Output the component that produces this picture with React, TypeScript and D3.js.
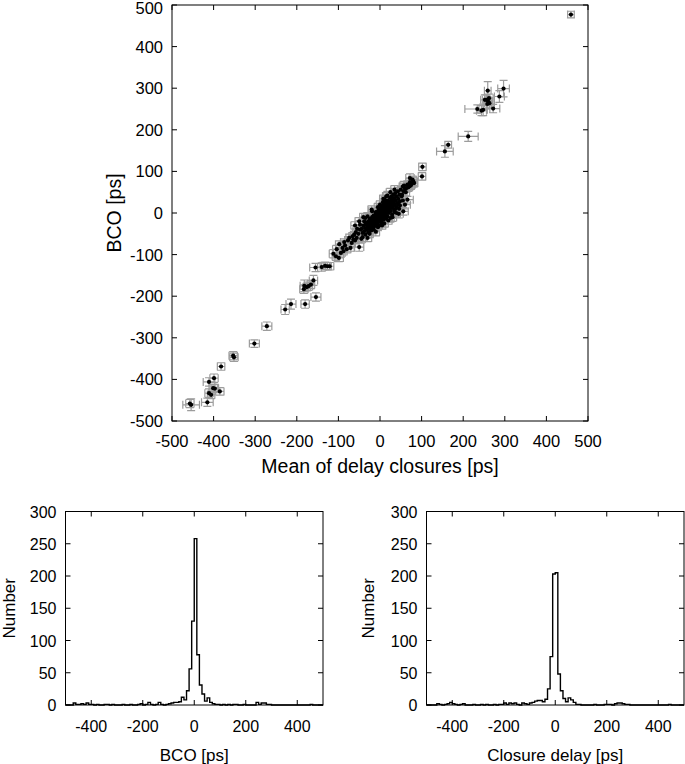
import React from 'react'
import * as d3 from 'd3'

// scatter points: [mean of delay closures, BCO, x error, y error], all in ps
const centralPoints: number[][] = [
  [-104, -87, 10, 9], [-98, -75, 9, 8], [-94, -96, 10, 10], [-99, -108, 11, 9], [-106, -104, 9, 10],
  [-90, -84, 8, 9], [-86, -70, 9, 8], [-80, -87, 10, 9], [-74, -60, 8, 9], [-71, -84, 9, 8],
  [-64, -64, 10, 9], [-50, -82, 11, 10], [-68, -72, 9, 9], [-60, -66, 8, 8], [-84, -78, 9, 10],
  [-77, -66, 8, 9], [-62, -52, 9, 8], [-56, -60, 10, 9], [-48, -40, 9, 9], [-58, -46, 8, 8],
  [-66, -56, 9, 9], [-52, -50, 8, 9], [-112, -98, 10, 10], [-88, -92, 9, 9],
  [-44, -38, 8, 8], [-42, -48, 9, 9], [-40, -30, 8, 9], [-38, -44, 9, 8], [-36, -36, 8, 8],
  [-35, -52, 9, 9], [-33, -28, 8, 8], [-32, -40, 8, 9], [-30, -22, 9, 8], [-30, -34, 8, 8],
  [-28, -46, 9, 9], [-27, -30, 8, 8], [-26, -18, 8, 9], [-25, -38, 9, 8], [-24, -26, 8, 8],
  [-23, -34, 8, 8], [-22, -14, 9, 9], [-21, -42, 8, 8], [-20, -24, 8, 9], [-20, -30, 8, 8],
  [-19, -10, 9, 8], [-18, -36, 8, 8], [-17, -20, 8, 8], [-16, -28, 9, 9], [-15, -6, 8, 8],
  [-15, -16, 8, 8], [-14, -32, 8, 9], [-13, -22, 9, 8], [-12, -12, 8, 8], [-12, -26, 8, 8],
  [-11, -4, 8, 9], [-10, -18, 9, 8], [-10, -30, 8, 8], [-9, -8, 8, 8], [-8, -14, 8, 9],
  [-8, -22, 9, 8], [-7, 2, 8, 8], [-6, -10, 8, 8], [-6, -26, 8, 8], [-5, -4, 9, 9],
  [-4, -16, 8, 8], [-4, 6, 8, 8], [-3, -8, 8, 9], [-2, -20, 8, 8], [-2, 0, 9, 8],
  [-1, -12, 8, 8], [0, 4, 8, 8], [0, -6, 8, 9], [1, -2, 9, 8], [1, -16, 8, 8],
  [2, 8, 8, 8], [2, -8, 8, 8], [3, 2, 8, 9], [3, -24, 9, 9], [4, 12, 8, 8],
  [4, -4, 8, 8], [5, -12, 8, 8], [5, 6, 9, 8], [6, 0, 8, 8], [6, 16, 8, 9],
  [7, -6, 8, 8], [8, 10, 8, 8], [8, -16, 9, 9], [9, 4, 8, 8], [9, 20, 8, 8],
  [10, -2, 8, 9], [10, 12, 9, 8], [11, -10, 8, 8], [12, 6, 8, 8], [12, 24, 8, 8],
  [13, 16, 9, 9], [14, -4, 8, 8], [14, 8, 8, 8], [15, 28, 8, 9], [16, 2, 9, 8],
  [16, 18, 8, 8], [17, 12, 8, 8], [18, -8, 9, 9], [18, 30, 8, 8], [19, 8, 8, 8],
  [20, 20, 8, 9], [20, 14, 8, 8], [21, 0, 9, 8], [22, 26, 8, 8], [23, 10, 8, 8],
  [24, 36, 9, 9], [24, 18, 8, 8], [25, 4, 8, 8], [26, 28, 8, 9], [27, 14, 8, 8],
  [28, 40, 9, 8], [28, 22, 8, 8], [29, -4, 8, 8], [30, 32, 8, 8], [31, 16, 9, 9],
  [32, 44, 8, 8], [33, 26, 8, 8], [34, 6, 8, 9], [35, 36, 9, 8], [36, 20, 8, 8],
  [37, 48, 8, 8], [38, 30, 8, 8], [40, 14, 9, 9], [40, 40, 8, 8], [42, 24, 8, 8],
  [43, 52, 8, 9], [44, 34, 9, 8], [46, 10, 8, 8], [47, 44, 8, 8], [48, 28, 9, 9],
  [50, 56, 8, 8], [52, 40, 8, 8],
  [-6, -2, 7, 7], [-3, -14, 7, 8], [0, -10, 8, 7], [2, -2, 7, 7], [4, -18, 8, 8],
  [-1, 6, 7, 7], [6, -8, 8, 8], [8, 2, 7, 7], [10, 6, 7, 8], [-8, -4, 8, 7],
  [-12, -6, 7, 7], [-14, -18, 8, 8], [12, 14, 7, 7], [14, 0, 8, 8], [-16, -8, 7, 8],
  [16, 10, 8, 7], [-18, -22, 7, 7], [18, 22, 8, 8], [-20, -16, 7, 7], [20, 6, 8, 8],
  [-22, -28, 8, 8], [22, 18, 7, 7], [-24, -14, 7, 8], [24, 10, 8, 7], [-26, -34, 8, 8],
  [26, 20, 7, 7], [-28, -24, 8, 8], [28, 34, 8, 8], [-34, -24, 8, 8], [30, 12, 8, 8],
  [-2, -30, 8, 8], [7, 26, 8, 8], [-10, 2, 7, 7], [3, 14, 7, 7], [11, 32, 8, 8],
  [-5, -34, 8, 8], [15, -14, 8, 8], [-19, 4, 8, 8], [35, 2, 9, 9], [-30, -8, 9, 9],
  [-40, -10, 9, 9], [-30, -60, 10, 9], [-10, -45, 9, 10], [10, -25, 10, 9], [20, -18, 9, 9],
  [30, -10, 10, 10], [40, 0, 9, 10], [-50, -20, 10, 9], [-20, 8, 9, 9], [-35, -12, 9, 10],
  [0, 20, 9, 9], [15, 40, 9, 9], [25, 50, 10, 9], [35, 56, 9, 10], [-45, -62, 10, 10],
  [-60, -30, 10, 9], [5, -30, 9, 9], [25, -12, 9, 10], [38, 10, 9, 9], [45, 20, 10, 9],
  [-25, -50, 9, 9], [-15, -40, 9, 9], [-5, 14, 9, 9], [8, 34, 9, 9], [18, 42, 9, 10],
  [-38, -20, 9, 9], [-48, -28, 10, 10], [-55, -38, 10, 9], [-42, -58, 9, 10], [55, 30, 10, 10],
  [53, 44, 9, 9], [55, 64, 9, 8], [57, 52, 8, 9], [58, 66, 10, 10], [60, 58, 9, 8],
  [62, 50, 9, 9], [64, 60, 10, 9], [66, 68, 9, 9], [68, 62, 10, 10], [70, 64, 9, 9],
  [72, 74, 10, 10], [74, 66, 9, 9], [76, 70, 10, 10], [78, 80, 9, 9], [80, 76, 10, 10],
  [82, 72, 9, 9], [72, 84, 10, 10], [66, 32, 14, 8], [56, 4, 12, 9], [60, 20, 13, 10],
  [45, -2, 11, 10], [48, 18, 10, 10]
]

const upperPoints: number[][] = [
  [102, 111, 9, 9], [101, 88, 9, 9],
  [156, 148, 20, 14], [164, 164, 8, 8], [212, 184, 24, 12],
  [234, 250, 30, 10], [244, 246, 12, 12], [248, 248, 10, 14], [252, 272, 10, 12], [256, 272, 10, 12],
  [259, 294, 8, 22], [260, 268, 10, 10], [263, 264, 12, 12], [258, 262, 10, 10], [272, 251, 16, 10],
  [287, 280, 12, 14], [297, 299, 14, 20], [262, 276, 10, 10],
  [459, 477, 8, 8]
]

const lowerPoints: number[][] = [
  [-121, -128, 10, 9], [-126, -128, 9, 9], [-132, -127, 12, 9], [-155, -131, 14, 10], [-140, -130, 10, 10],
  [-160, -162, 10, 12], [-166, -172, 9, 10], [-172, -176, 10, 10], [-176, -178, 9, 9], [-182, -175, 10, 14],
  [-183, -183, 10, 10], [-154, -202, 12, 10], [-180, -219, 10, 10],
  [-214, -219, 12, 12], [-228, -232, 10, 12],
  [-272, -272, 12, 10],
  [-302, -314, 12, 9],
  [-353, -343, 10, 10], [-351, -347, 10, 10],
  [-382, -369, 9, 9],
  [-399, -397, 10, 10], [-411, -406, 14, 10], [-401, -421, 10, 9], [-397, -422, 9, 10], [-385, -429, 10, 9],
  [-411, -433, 10, 10], [-406, -437, 9, 9],
  [-454, -461, 20, 14], [-457, -458, 10, 10], [-415, -455, 14, 10]
]

const scatterTicks = [-500, -400, -300, -200, -100, 0, 100, 200, 300, 400, 500]
const histXTicks = [-400, -200, 0, 200, 400]
const histYTicks = [0, 50, 100, 150, 200, 250, 300]

// histogram bins are 10 ps wide, from -500 to 500
const binStarts = d3.range(-500, 500, 10)

const bcoCounts = [
  0, 0, 0, 3, 1, 1, 2, 1, 3, 1,
  1, 0, 1, 0, 0, 1, 1, 0, 1, 0,
  0, 0, 1, 0, 0, 1, 0, 0, 1, 2,
  0, 1, 4, 1, 0, 1, 4, 1, 0, 1,
  2, 3, 4, 4, 5, 12, 8, 22, 56, 130,
  258, 78, 31, 17, 6, 11, 4, 2, 1, 1,
  0, 1, 0, 1, 0, 1, 1, 0, 0, 1,
  0, 0, 0, 0, 4, 1, 3, 3, 1, 1,
  0, 0, 0, 0, 0, 0, 0, 0, 0, 0,
  0, 0, 0, 0, 0, 1, 0, 0, 0, 0
]

const closureCounts = [
  0, 0, 0, 0, 2, 1, 0, 1, 2, 4,
  2, 1, 0, 1, 2, 0, 0, 0, 1, 0,
  0, 1, 0, 1, 0, 0, 1, 0, 1, 1,
  3, 1, 3, 2, 3, 1, 0, 3, 2, 1,
  3, 4, 6, 7, 7, 5, 9, 25, 75, 203,
  205, 48, 22, 10, 5, 11, 8, 4, 1, 1,
  0, 0, 0, 0, 0, 1, 0, 0, 0, 1,
  1, 1, 0, 2, 3, 3, 2, 1, 1, 0,
  0, 0, 0, 0, 0, 0, 0, 0, 0, 0,
  0, 0, 0, 0, 1, 0, 0, 0, 0, 0
]

const font = '"Liberation Sans", Arial, sans-serif'
const tickLen = 5

function Scatter() {
  const x = d3.scaleLinear().domain([-500, 500]).range([172, 588])
  const y = d3.scaleLinear().domain([-500, 500]).range([421, 5])
  const points = [...lowerPoints, ...centralPoints, ...upperPoints]
  const cap = 4

  const errPath = (p: number[]) => {
    const cx = x(p[0])
    const cy = y(p[1])
    const x0 = x(p[0] - p[2])
    const x1 = x(p[0] + p[2])
    const y0 = y(p[1] - p[3])
    const y1 = y(p[1] + p[3])
    return `M${x0},${cy}H${x1}M${x0},${cy - cap}V${cy + cap}M${x1},${cy - cap}V${cy + cap}` +
      `M${cx},${y0}V${y1}M${cx - cap},${y0}H${cx + cap}M${cx - cap},${y1}H${cx + cap}`
  }

  return (
    <g>
      <g fill="none" stroke="#9c9c9c" strokeWidth={1.2}>
        {points.map((p, i) => <path key={i} d={errPath(p)} />)}
      </g>
      <g fill="#000">
        {points.map((p, i) => <circle key={i} cx={x(p[0])} cy={y(p[1])} r={2.1} />)}
      </g>
      <rect x={172} y={5} width={416} height={416} fill="none" stroke="#000" strokeWidth={1} />
      <g stroke="#000" strokeWidth={1}>
        {scatterTicks.map(t => (
          <g key={t}>
            <line x1={x(t)} x2={x(t)} y1={421} y2={421 - tickLen} />
            <line x1={x(t)} x2={x(t)} y1={5} y2={5 + tickLen} />
            <line x1={172} x2={172 + tickLen} y1={y(t)} y2={y(t)} />
            <line x1={588} x2={588 - tickLen} y1={y(t)} y2={y(t)} />
          </g>
        ))}
      </g>
      <g fontFamily={font} fontSize={16.5} fill="#000">
        {scatterTicks.map(t => (
          <text key={'x' + t} x={x(t)} y={447} textAnchor="middle">{t}</text>
        ))}
        {scatterTicks.map(t => (
          <text key={'y' + t} x={163} y={Math.max(y(t) + 6, 14)} textAnchor="end">{t}</text>
        ))}
      </g>
      <text x={380} y={473} textAnchor="middle" fontFamily={font} fontSize={19.5}>
        Mean of delay closures [ps]
      </text>
      <text transform="translate(121,213) rotate(-90)" textAnchor="middle" fontFamily={font} fontSize={19.5}>
        BCO [ps]
      </text>
    </g>
  )
}

function Histogram({left, counts, label, yLabelX}: {left: number; counts: number[]; label: string; yLabelX: number}) {
  const width = 257.5
  const top = 511.5
  const bottom = 705
  const x = d3.scaleLinear().domain([-500, 500]).range([left, left + width])
  const y = d3.scaleLinear().domain([0, 300]).range([bottom, top])
  const steps: [number, number][] = binStarts.map((b, i) => [b, counts[i]])
  steps.push([500, counts[counts.length - 1]])
  const line = d3
    .line<[number, number]>()
    .x(d => x(d[0]))
    .y(d => y(d[1]))
    .curve(d3.curveStepAfter)

  return (
    <g>
      <path d={line(steps) || ''} fill="none" stroke="#000" strokeWidth={1.4} />
      <rect x={left} y={top} width={width} height={bottom - top} fill="none" stroke="#000" strokeWidth={1} />
      <g stroke="#000" strokeWidth={1}>
        {histXTicks.map(t => (
          <g key={t}>
            <line x1={x(t)} x2={x(t)} y1={bottom} y2={bottom - tickLen} />
            <line x1={x(t)} x2={x(t)} y1={top} y2={top + tickLen} />
          </g>
        ))}
        {histYTicks.map(t => (
          <g key={t}>
            <line x1={left} x2={left + tickLen} y1={y(t)} y2={y(t)} />
            <line x1={left + width} x2={left + width - tickLen} y1={y(t)} y2={y(t)} />
          </g>
        ))}
      </g>
      <g fontFamily={font} fontSize={16} fill="#000">
        {histXTicks.map(t => (
          <text key={'x' + t} x={x(t)} y={731.5} textAnchor="middle">{t}</text>
        ))}
        {histYTicks.map(t => (
          <text key={'y' + t} x={left - 9} y={y(t) + 6} textAnchor="end">{t}</text>
        ))}
      </g>
      <text x={left + width / 2} y={761} textAnchor="middle" fontFamily={font} fontSize={17}>
        {label}
      </text>
      <text transform={`translate(${yLabelX},${(top + bottom) / 2}) rotate(-90)`} textAnchor="middle" fontFamily={font} fontSize={17}>
        Number
      </text>
    </g>
  )
}

export default function App() {
  return (
    <svg
      width={685}
      height={764}
      style={{position: 'absolute', left: 0, top: 0, background: '#fff'}}
    >
      <rect width={685} height={764} fill="#fff" />
      <Scatter />
      <Histogram left={65.5} counts={bcoCounts} label="BCO [ps]" yLabelX={15} />
      <Histogram left={426.5} counts={closureCounts} label="Closure delay [ps]" yLabelX={373.5} />
    </svg>
  )
}
